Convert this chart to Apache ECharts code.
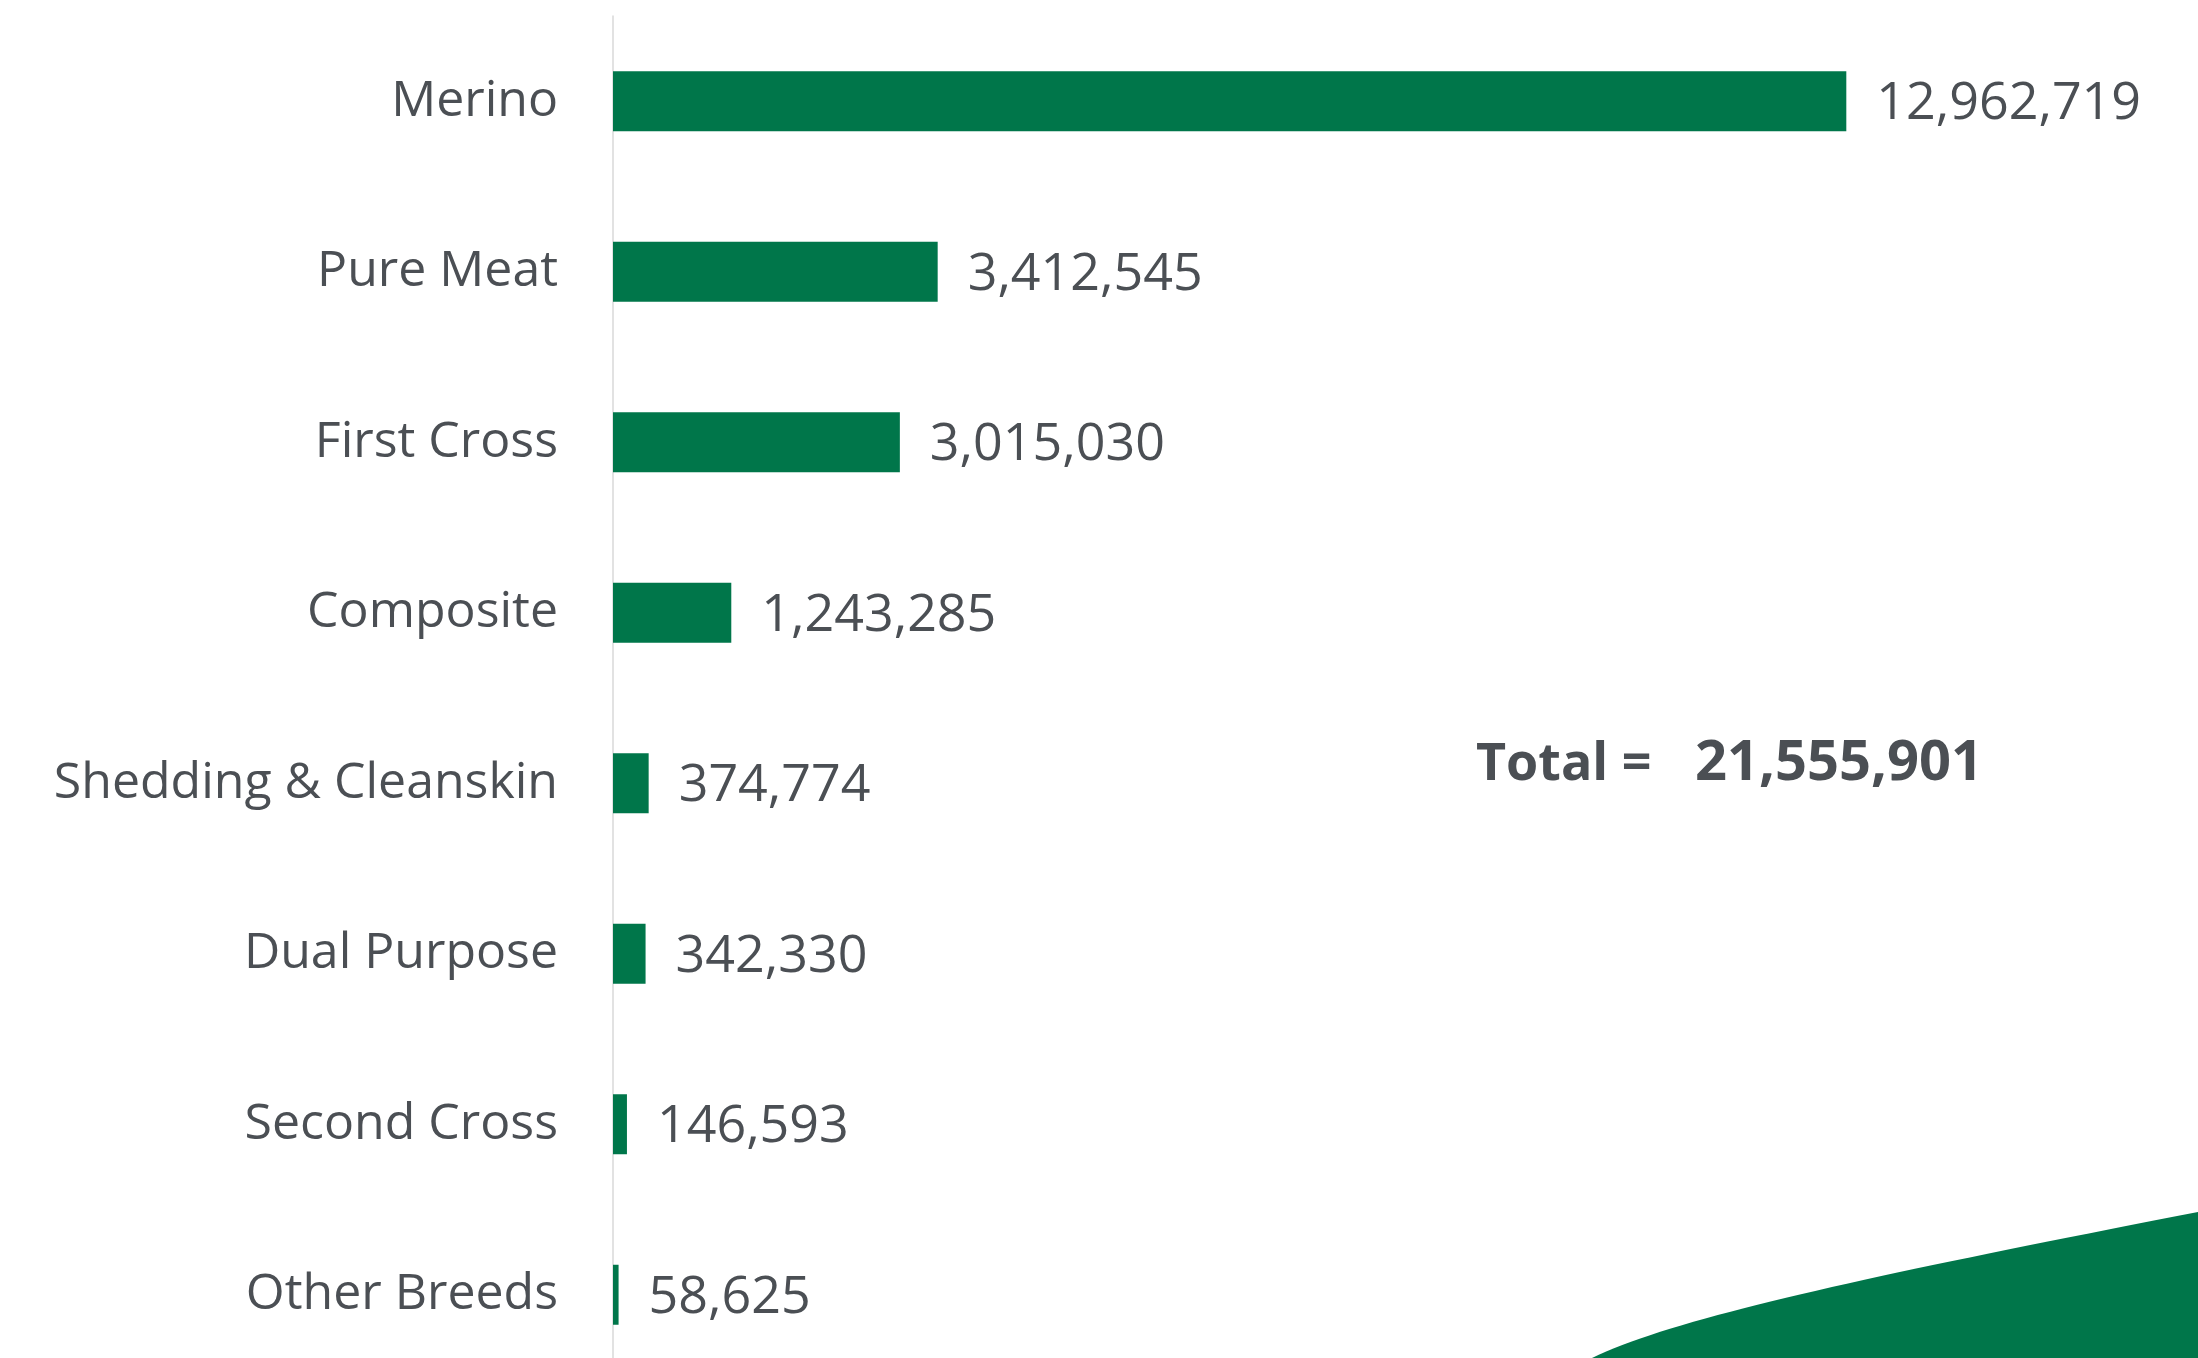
<!DOCTYPE html>
<html>
<head>
<meta charset="utf-8">
<script src="https://cdn.jsdelivr.net/npm/echarts@6/dist/echarts.min.js"></script>
<style>
  html, body { margin: 0; padding: 0; background: #ffffff; }
  #chart { width: 2198px; height: 1358px; }
</style>
</head>
<body>
<div id="chart"></div>
<script>
const categories = ['Merino', 'Pure Meat', 'First Cross', 'Composite', 'Shedding & Cleanskin', 'Dual Purpose', 'Second Cross', 'Other Breeds'];
const sheepCounts = [12962719, 3412545, 3015030, 1243285, 374774, 342330, 146593, 58625];
const totalLabel = 'Total =';

const GREEN = '#00764A';
const TEXT = '#4B4F54';
const FONT = '"Open Sans", "Noto Sans", sans-serif';

function fmt(n) { return String(n).replace(/\B(?=(\d{3})+(?!\d))/g, ','); }
const total = sheepCounts.reduce((a, b) => a + b, 0);

// decorative swoosh in the lower right corner (cubic bezier outline)
function swoosh() {
  const p0 = [1592, 1358], c1 = [1680, 1315], c2 = [1900, 1270], p3 = [2198, 1212];
  const pts = [];
  for (let i = 0; i <= 40; i++) {
    const t = i / 40, u = 1 - t;
    pts.push([
      u*u*u*p0[0] + 3*u*u*t*c1[0] + 3*u*t*t*c2[0] + t*t*t*p3[0],
      u*u*u*p0[1] + 3*u*u*t*c1[1] + 3*u*t*t*c2[1] + t*t*t*p3[1]
    ]);
  }
  pts.push([2198, 1358]);
  return pts;
}

const chart = echarts.init(document.getElementById('chart'), null, { renderer: 'canvas' });
chart.setOption({
  backgroundColor: '#ffffff',
  animation: false,
  grid: { left: 613, top: 16, width: 1332, height: 1364, containLabel: false, outerBoundsMode: 'none' },
  xAxis: {
    type: 'value', min: 0, max: 14000000,
    show: false,
    splitLine: { show: false }
  },
  yAxis: {
    type: 'category',
    data: categories,
    inverse: true,
    axisLine: { show: true, lineStyle: { color: '#D9D9D9', width: 1.5 } },
    axisTick: { show: false },
    axisLabel: { color: TEXT, fontSize: 50, fontFamily: FONT, margin: 55, padding: [6, 0, 0, 0] },
    splitLine: { show: false }
  },
  series: [{
    type: 'bar',
    data: sheepCounts,
    barWidth: 60,
    itemStyle: { color: GREEN },
    label: {
      show: true, position: 'right', distance: 30, offset: [0, 3],
      color: TEXT, fontSize: 52, fontFamily: FONT,
      formatter: p => fmt(p.value)
    }
  }],
  graphic: [
    {
      type: 'polygon',
      shape: { points: swoosh() },
      style: { fill: GREEN },
      silent: true, z: 0
    },
    {
      type: 'text', left: 1476, top: 739,
      style: { text: totalLabel, fill: TEXT, font: 'bold 52px ' + FONT }
    },
    {
      type: 'text', left: 1695, top: 736,
      style: { text: fmt(total), fill: TEXT, font: 'bold 56px ' + FONT }
    }
  ]
});
</script>
</body>
</html>
